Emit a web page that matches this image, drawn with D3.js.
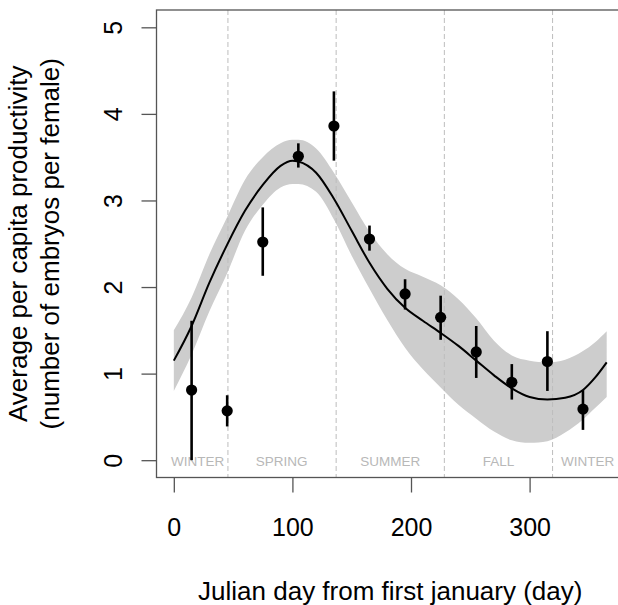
<!DOCTYPE html>
<html>
<head>
<meta charset="utf-8">
<script src="https://cdn.jsdelivr.net/npm/d3@7"></script>
<style>
  html, body { margin: 0; padding: 0; background: #fff; }
  svg { display: block; font-family: "Liberation Sans", Arial, sans-serif; }
</style>
</head>
<body>
<svg id="chart" width="618" height="605"></svg>
<script>
// ---- data ----
const obsDay   = [15, 45, 75, 105, 135, 165, 195, 225, 255, 285, 315, 345];
const obsMean  = [0.81, 0.57, 2.52, 3.51, 3.86, 2.555, 1.92, 1.65, 1.25, 0.90, 1.14, 0.59];
const obsLow   = [0.00, 0.39, 2.13, 3.38, 3.46, 2.42, 1.74, 1.39, 0.95, 0.70, 0.80, 0.35];
const obsHigh  = [1.61, 0.75, 2.92, 3.66, 4.26, 2.71, 2.09, 1.90, 1.55, 1.11, 1.49, 0.81];

const fitDay   = [0, 15, 30, 45, 60, 75, 90, 100, 105, 120, 135, 150, 165, 180, 195, 210, 225, 240, 255, 270, 285, 300, 315, 330, 345, 355, 365];
const fitMean  = [1.15, 1.55, 2.05, 2.49, 2.88, 3.18, 3.40, 3.46, 3.45, 3.32, 3.02, 2.65, 2.28, 1.98, 1.76, 1.61, 1.47, 1.32, 1.15, 0.98, 0.83, 0.73, 0.70, 0.72, 0.81, 0.95, 1.13];
const fitUpper = [1.50, 1.88, 2.38, 2.81, 3.24, 3.50, 3.66, 3.70, 3.70, 3.60, 3.32, 2.98, 2.64, 2.38, 2.21, 2.12, 2.02, 1.86, 1.64, 1.38, 1.21, 1.15, 1.13, 1.16, 1.26, 1.36, 1.49];
const fitLower = [0.80, 1.22, 1.72, 2.16, 2.65, 2.95, 3.15, 3.19, 3.19, 3.10, 2.78, 2.36, 1.98, 1.62, 1.30, 1.05, 0.84, 0.64, 0.48, 0.33, 0.23, 0.20, 0.22, 0.32, 0.47, 0.60, 0.73];

const seasonBreaks = [45.625, 136.875, 228.125, 319.375];
const seasonNames  = ["WINTER", "SPRING", "SUMMER", "FALL", "WINTER"];
const seasonLabelDay = [20, 91, 182.5, 273.75, 349];

const xTicks = [0, 100, 200, 300];
const yTicks = [0, 1, 2, 3, 4, 5];

// ---- layout ----
const svg = d3.select("#chart");
const x = d3.scaleLinear().domain([-14.6, 379.6]).range([156.5, 624]);
const y = d3.scaleLinear().domain([-0.2, 5.2]).range([477.5, 10]);

const axisCol = "#555";

// band
const fit = fitDay.map((d, i) => ({d, m: fitMean[i], lo: fitLower[i], hi: fitUpper[i]}));
svg.append("path")
  .datum(fit)
  .attr("fill", "#cdcdcd")
  .attr("d", d3.area().x(p => x(p.d)).y0(p => y(p.lo)).y1(p => y(p.hi)).curve(d3.curveMonotoneX));

// season dashed lines
svg.selectAll("line.season").data(seasonBreaks).enter().append("line")
  .attr("x1", d => x(d)).attr("x2", d => x(d))
  .attr("y1", y(5.2)).attr("y2", y(-0.2))
  .attr("stroke", "#bdbdbd").attr("stroke-width", 1).attr("stroke-dasharray", "5,3");

// season labels
svg.selectAll("text.season").data(seasonNames).enter().append("text")
  .attr("x", (d, i) => x(seasonLabelDay[i]))
  .attr("y", 466)
  .attr("text-anchor", "middle")
  .attr("font-size", 13.5)
  .attr("fill", "#b8b8b8")
  .text(d => d);

// fitted line
svg.append("path")
  .datum(fit)
  .attr("fill", "none").attr("stroke", "#000").attr("stroke-width", 2)
  .attr("d", d3.line().x(p => x(p.d)).y(p => y(p.m)).curve(d3.curveMonotoneX));

// observations
const obs = obsDay.map((d, i) => ({d, m: obsMean[i], lo: obsLow[i], hi: obsHigh[i]}));
svg.selectAll("line.err").data(obs).enter().append("line")
  .attr("x1", p => x(p.d)).attr("x2", p => x(p.d))
  .attr("y1", p => y(p.lo)).attr("y2", p => y(p.hi))
  .attr("stroke", "#000").attr("stroke-width", 2.6);
svg.selectAll("circle.pt").data(obs).enter().append("circle")
  .attr("cx", p => x(p.d)).attr("cy", p => y(p.m)).attr("r", 5.6)
  .attr("fill", "#000");

// box
svg.append("rect")
  .attr("x", x.range()[0]).attr("y", y.range()[1])
  .attr("width", x.range()[1] - x.range()[0])
  .attr("height", y.range()[0] - y.range()[1])
  .attr("fill", "none").attr("stroke", axisCol).attr("stroke-width", 1.3);

// x axis
const xAxis = d3.axisBottom(x).tickValues(xTicks).tickSize(15).tickPadding(26).tickFormat(d3.format("d"));
const gx = svg.append("g").attr("transform", `translate(0,${y.range()[0]})`).call(xAxis);
gx.select(".domain").remove();
gx.selectAll("line").attr("stroke", axisCol).attr("stroke-width", 1.3);
gx.selectAll("text").attr("font-size", 25).attr("fill", "#000")
  .attr("font-family", "Liberation Sans, Arial, sans-serif");

// y axis
const yAxis = d3.axisLeft(y).tickValues(yTicks).tickSize(15).tickPadding(0).tickFormat(d3.format("d"));
const gy = svg.append("g").attr("transform", `translate(${x.range()[0]},0)`).call(yAxis);
gy.select(".domain").remove();
gy.selectAll("line").attr("stroke", axisCol).attr("stroke-width", 1.3);
gy.selectAll("text")
  .attr("x", 0).attr("dy", null)
  .attr("text-anchor", "middle")
  .attr("font-size", 25).attr("fill", "#000")
  .attr("font-family", "Liberation Sans, Arial, sans-serif")
  .attr("transform", "translate(-35,0) rotate(-90)");

// titles
svg.append("text")
  .attr("x", (156.5 + 624) / 2 - 0).attr("y", 600)
  .attr("text-anchor", "middle").attr("font-size", 26).attr("fill", "#000")
  .text("Julian day from first january (day)");

const ymid = (y.range()[0] + y.range()[1]) / 2;
svg.append("text")
  .attr("transform", `translate(27,${ymid}) rotate(-90)`)
  .attr("text-anchor", "middle").attr("font-size", 26).attr("fill", "#000")
  .text("Average per capita productivity");
svg.append("text")
  .attr("transform", `translate(59,${ymid}) rotate(-90)`)
  .attr("text-anchor", "middle").attr("font-size", 26).attr("fill", "#000")
  .text("(number of embryos per female)");
</script>
</body>
</html>
